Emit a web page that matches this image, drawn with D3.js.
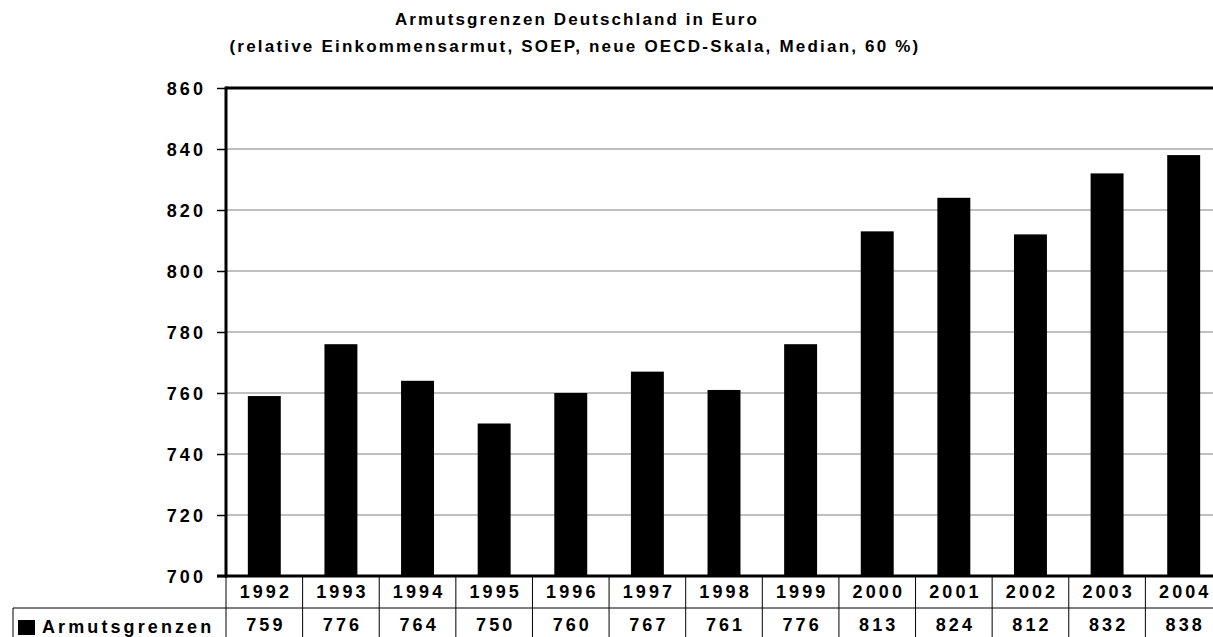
<!DOCTYPE html>
<html lang="de">
<head>
    <meta charset="UTF-8">
    <title>Armutsgrenzen</title>
    <script src="https://d3js.org/d3.v7.min.js"></script>
    <style>
        body { margin: 0; background: #fff; }
        text { font-family: "Liberation Sans", Arial, sans-serif; font-weight: bold; fill: #000; }
    </style>
</head>
<body>
<div id="figure" style="width: 1213px; height: 637px; overflow: hidden"></div>
<script>
    let years = ["1992", "1993", "1994", "1995", "1996", "1997", "1998", "1999", "2000", "2001", "2002", "2003", "2004"];
    let values = [759, 776, 764, 750, 760, 767, 761, 776, 813, 824, 812, 832, 838];
    let yTicks = [700, 720, 740, 760, 780, 800, 820, 840, 860];
    let seriesName = "Armutsgrenzen";
    let title1 = "Armutsgrenzen Deutschland in Euro";
    let title2 = "(relative Einkommensarmut, SOEP, neue OECD-Skala, Median, 60 %)";

    let w = 1213, h = 637;
    let plotLeft = 226, plotRight = 1222; // plot runs past the window edge, like the reference
    let plotTop = 88, plotBottom = 576;
    let row1 = 608, row2 = 640;
    let legendLeft = 13;
    let fontSize = "18px";
    let spacing = 3.1; // letter spacing of axis and table labels

    let svg = d3.select("#figure").append("svg")
        .attr("width", w)
        .attr("height", h);

    let xScale = d3.scaleBand()
        .domain(years)
        .range([plotLeft, plotRight])
        .paddingInner(0.57)
        .paddingOuter(0.285);
    let yScale = d3.scaleLinear()
        .domain([700, 860])
        .range([plotBottom, plotTop]);

    // title
    svg.append("text")
        .attr("x", 577).attr("y", 25)
        .attr("text-anchor", "middle")
        .style("font-size", "17px")
        .style("letter-spacing", "2.1px")
        .text(title1);
    svg.append("text")
        .attr("x", 575).attr("y", 52)
        .attr("text-anchor", "middle")
        .style("font-size", "17px")
        .style("letter-spacing", "2.2px")
        .text(title2);

    // gridlines
    svg.append("g").selectAll("line")
        .data(yTicks.filter(d => d > 700 && d < 860))
        .join("line")
        .attr("x1", plotLeft).attr("x2", plotRight)
        .attr("y1", d => yScale(d)).attr("y2", d => yScale(d))
        .style("stroke", "#808080")
        .style("stroke-width", 1);

    // y axis
    let yAxis = d3.axisLeft(yScale).tickValues(yTicks).tickSize(9).tickPadding(11).tickFormat(d3.format("d"));
    let ag = svg.append("g")
        .attr("transform", `translate(${plotLeft},0)`)
        .call(yAxis);
    ag.select(".domain").remove();
    ag.selectAll(".tick line").style("stroke", "#000").style("stroke-width", 1.5);
    ag.selectAll(".tick text")
        .style("font-size", fontSize)
        .style("letter-spacing", spacing + "px")
        .style("font-family", "'Liberation Sans', Arial, sans-serif")
        .attr("dy", "0.36em");

    // bars
    svg.append("g").selectAll("rect")
        .data(values)
        .join("rect")
        .attr("x", (d, i) => xScale(years[i]))
        .attr("width", xScale.bandwidth())
        .attr("y", d => yScale(d))
        .attr("height", d => yScale(700) - yScale(d))
        .style("fill", "#000");

    // frame lines
    svg.append("line")
        .attr("x1", plotLeft).attr("x2", plotRight).attr("y1", plotTop).attr("y2", plotTop)
        .style("stroke", "#000").style("stroke-width", 3);
    svg.append("line")
        .attr("x1", plotLeft).attr("x2", plotLeft).attr("y1", plotTop - 1.5).attr("y2", plotBottom + 1.5)
        .style("stroke", "#000").style("stroke-width", 3);
    svg.append("line")
        .attr("x1", plotLeft - 9).attr("x2", plotRight).attr("y1", plotBottom).attr("y2", plotBottom)
        .style("stroke", "#000").style("stroke-width", 3);

    // data table
    let step = xScale.step();
    let cellLeft = d => xScale(d) - xScale.paddingInner() * step / 2;
    let cellMid = d => xScale(d) + xScale.bandwidth() / 2 + spacing / 2;
    let table = svg.append("g");
    table.append("line")
        .attr("x1", legendLeft).attr("x2", plotRight).attr("y1", row1).attr("y2", row1)
        .style("stroke", "#000").style("stroke-width", 1);
    table.append("line")
        .attr("x1", legendLeft).attr("x2", legendLeft).attr("y1", row1).attr("y2", row2)
        .style("stroke", "#000").style("stroke-width", 1);
    table.selectAll("line.v")
        .data(years)
        .join("line")
        .attr("class", "v")
        .attr("x1", d => cellLeft(d)).attr("x2", d => cellLeft(d))
        .attr("y1", plotBottom).attr("y2", row2)
        .style("stroke", "#000").style("stroke-width", 1);

    table.selectAll("text.year")
        .data(years)
        .join("text")
        .attr("class", "year")
        .attr("x", d => cellMid(d))
        .attr("y", 597.5)
        .attr("text-anchor", "middle")
        .style("font-size", fontSize)
        .style("letter-spacing", spacing + "px")
        .text(d => d);
    table.selectAll("text.val")
        .data(values)
        .join("text")
        .attr("class", "val")
        .attr("x", (d, i) => cellMid(years[i]))
        .attr("y", 630.5)
        .attr("text-anchor", "middle")
        .style("font-size", fontSize)
        .style("letter-spacing", spacing + "px")
        .text(d => d);

    // legend cell
    table.append("rect")
        .attr("x", 18).attr("y", 620).attr("width", 17).attr("height", 15)
        .style("fill", "#000");
    table.append("text")
        .attr("x", 42).attr("y", 633)
        .style("font-size", fontSize)
        .style("letter-spacing", spacing + "px")
        .text(seriesName);
</script>
</body>
</html>
